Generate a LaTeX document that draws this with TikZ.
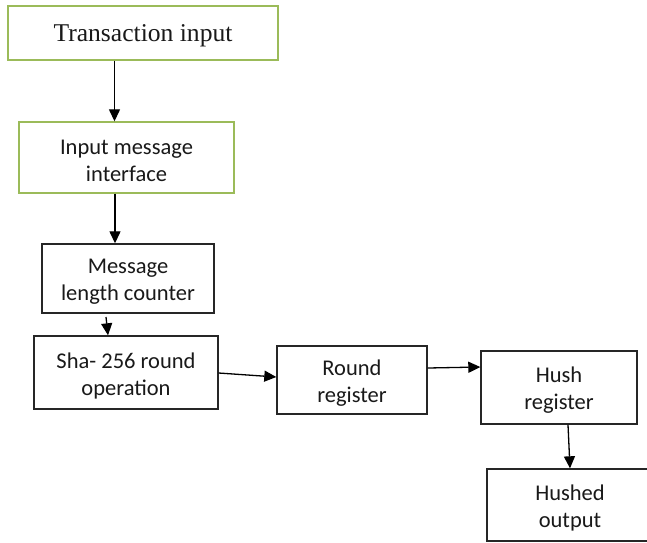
\documentclass[tikz,border=0pt]{standalone}
\usepackage{fontspec}
\setmainfont{Carlito}
\newfontfamily\serifT{Liberation Serif}
\usetikzlibrary{arrows.meta}
\definecolor{boxgreen}{HTML}{9BBB59}
\tikzset{
  x=1pt, y=-1pt,
  blk/.style={draw=black!85, line width=1.4pt, inner sep=0pt},
  grn/.style={blk, draw=boxgreen},
  txt/.style={align=center, inner sep=0pt, yshift=-3pt,
    font=\fontsize{22.5}{27}\selectfont, text=black!90},
  arr/.style={line width=1.3pt, -{Triangle[length=12pt,width=11pt]}}
}
\newcommand{\boxat}[7]{% name, style, x1, y1, x2, y2, text
  \node[#2, minimum width={#5-#3}, minimum height={#6-#4},
    label={[txt]center:{#7}}] (#1) at ({(#3+#5)/2},{(#4+#6)/2}) {};}
\begin{document}
\begin{tikzpicture}
\useasboundingbox (0,0) rectangle (647,542);
\fill[white] (0,0) rectangle (647,542);
\boxat{ti}{grn}{8}{6}{278}{60}{\serifT\fontsize{25.6}{30}\selectfont Transaction input}
\boxat{imi}{grn}{19}{122}{234}{193}{Input message\\interface}
\boxat{mlc}{blk}{42}{244}{214}{313}{Message\\length counter}
\boxat{sha}{blk}{34}{336}{218}{409}{Sha- 256 round\\operation}
\boxat{rr}{blk}{277}{346}{427}{414}{Round\\register}
\boxat{hr}{blk}{481}{351}{637}{424}{Hush\\register}
\boxat{ho}{blk}{487}{469}{653}{541}{Hushed\\output}
\coordinate (a3s) at (106,317);
\draw[arr] (ti.south -| 114.5,0) -- (imi.north -| 114.5,0);
\draw[arr] (imi.south -| 115,0) -- (mlc.north -| 115,0);
\draw[arr] (a3s) -- (sha.north -| 108,0);
\draw[arr] (sha.east |- 0,373) -- (rr.west |- 0,377);
\draw[arr] (rr.east |- 0,368) -- (hr.west |- 0,367);
\draw[arr] (hr.south -| 568,0) -- (ho.north -| 570,0);
\end{tikzpicture}
\end{document}
